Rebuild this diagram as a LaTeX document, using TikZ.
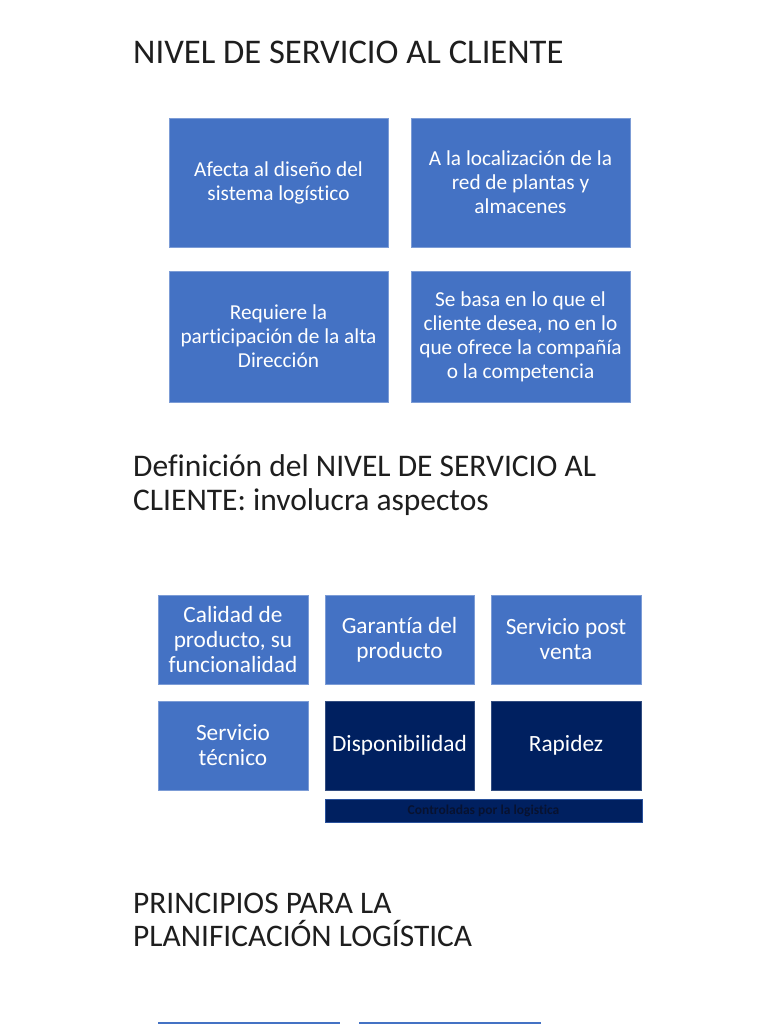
\documentclass[tikz,border=0pt]{standalone}
\usepackage{fontspec}
\setmainfont{Carlito}[Ligatures=NoCommon]
\definecolor{mblue}{RGB}{68,114,196}
\definecolor{dblue}{RGB}{0,32,96}
\definecolor{dtext}{RGB}{8,18,48}
\definecolor{ttext}{RGB}{30,30,30}
\begin{document}
\begin{tikzpicture}[x=1pt,y=1pt,
  boxa/.style={rectangle,fill=mblue,draw=mblue!70!white,line width=0.5pt,inner sep=0pt,
    minimum width=219pt,align=center,text=white,
    font=\fontsize{21.3}{24}\selectfont},
  boxb/.style={rectangle,fill=mblue,draw=mblue!70!white,line width=0.5pt,inner sep=0pt,
    minimum width=150pt,minimum height=89pt,align=center,text=white,
    font=\fontsize{23.3}{25}\selectfont},
  boxd/.style={boxb,fill=dblue,draw=dblue!80!white},
  ttl/.style={anchor=base west,inner sep=0pt,text=ttext,align=left}]
\useasboundingbox (0,0) rectangle (768,-1024);
\fill[white] (0,0) rectangle (768,-1024);

\node[ttl,font=\fontsize{34.6}{40}\selectfont] (t1) at (133,-63.5) {NIVEL DE SERVICIO AL CLIENTE};

\node[boxa,minimum height=129pt] (a1) at (278.5,-182.5) {Afecta al diseño del\\sistema logístico};
\node[boxa,minimum height=129pt] (a2) at (520.5,-182.5) {A la localización de la\\red de plantas y\\almacenes};
\node[boxa,minimum height=131pt] (a3) at (278.5,-336.5) {Requiere la\\participación de la alta\\Dirección};
\node[boxa,minimum height=131pt] (a4) at (520.5,-336.5) {Se basa en lo que el\\cliente desea, no en lo\\que ofrece la compañía\\o la competencia};

\node[ttl,font=\fontsize{31.5}{33.3}\selectfont] (t2) at (133,-510) {Definición del NIVEL DE SERVICIO AL\\CLIENTE: involucra aspectos};

\node[boxb] (b1) at (233,-639.5) {Calidad de\\producto, su\\funcionalidad};
\node[boxb,minimum width=149pt] (b2) at (399.5,-639.5) {Garantía del\\producto};
\node[boxb] (b3) at (566,-639.5) {Servicio post\\venta};
\node[boxb] (b4) at (233,-745.5) {Servicio\\técnico};
\node[boxd,minimum width=149pt] (b5) at (399.5,-745.5) {Disponibilidad};
\node[boxd] (b6) at (566,-745.5) {Rapidez};
\node[rectangle,fill=dblue,draw=mblue!60!dblue,line width=0.6pt,inner sep=0pt,
  minimum width=317pt,minimum height=23pt,text=dtext,
  font=\fontsize{13.5}{15}\selectfont\bfseries] (bar) at (483.5,-810.5) {Controladas por la logistica};

\node[ttl,font=\fontsize{31.4}{33.5}\selectfont] (t3) at (133,-946.5) {PRINCIPIOS PARA LA\\PLANIFICACIÓN LOGÍSTICA};

\fill[mblue] (158,-1022) coordinate (c1) rectangle (340,-1024);
\fill[mblue] (359,-1022) coordinate (c2) rectangle (541,-1024);
\end{tikzpicture}
\end{document}
